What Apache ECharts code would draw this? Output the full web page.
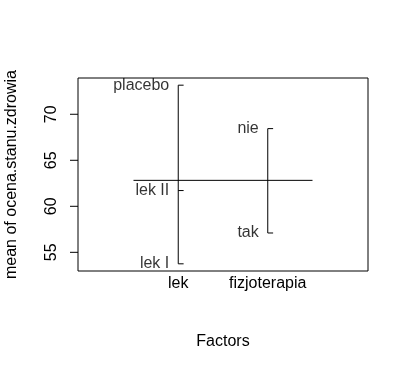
<!DOCTYPE html>
<html><head><meta charset="utf-8">
<script src="https://cdn.jsdelivr.net/npm/echarts@6/dist/echarts.min.js"></script>
<style>html,body{margin:0;padding:0;background:#fff}#c{width:409px;height:369px}</style>
</head><body><div id="c"></div>
<script>
const factors = ['lek', 'fizjoterapia'];
const lekLevels = ['placebo', 'lek II', 'lek I'];
const lekMeans = [73.16, 61.71, 53.75];
const fizjoLevels = ['nie', 'tak'];
const fizjoMeans = [68.44, 57.10];
const grandMean = 62.82;
const yTicks = [55, 60, 65, 70];

const F = 'Liberation Sans, Arial, sans-serif';
const X_MIN = -0.12, X_MAX = 3.12;
const Y_MIN = 52.97, Y_MAX = 73.94;
const lineStyle = {color: '#000', width: 1};
const groups = [
  {x: 1, names: lekLevels, vals: lekMeans},
  {x: 2, names: fizjoLevels, vals: fizjoMeans}
];
const series = [];
groups.forEach(g => {
  series.push({type: 'line', data: [[g.x, Math.max(...g.vals)], [g.x, Math.min(...g.vals)]],
    symbol: 'none', lineStyle, silent: true});
  g.vals.forEach(v => {
    series.push({type: 'line', data: [[g.x, v], [g.x + 0.06, v]], symbol: 'none', lineStyle, silent: true});
  });
  series.push({type: 'scatter', symbolSize: 0, silent: true,
    data: g.vals.map((v, i) => ({value: [g.x, v], name: g.names[i]})),
    label: {show: true, position: 'left', distance: 9, formatter: p => p.name,
      fontFamily: F, fontSize: 16, color: '#000'}});
});
series.push({type: 'line', data: [[0.5, grandMean], [2.5, grandMean]], symbol: 'none', lineStyle, silent: true});
// y-axis tick marks: short horizontal dashes at the left edge of the plot box, pointing outward
series.push({type: 'scatter', silent: true, clip: false, z: 10,
  data: yTicks.map(t => [X_MIN, t]),
  symbol: 'rect', symbolSize: [8, 1], symbolOffset: [-4, 0],
  itemStyle: {color: '#000', opacity: 1}});

const chart = echarts.init(document.getElementById('c'));
chart.setOption({
  animation: false,
  grid: {left: 78, right: 41, top: 78, bottom: 98, show: true, borderColor: '#000', borderWidth: 1,
    outerBoundsMode: 'none', containLabel: false},
  xAxis: {type: 'value', min: X_MIN, max: X_MAX,
    name: 'Factors', nameLocation: 'middle', nameGap: 63,
    nameTextStyle: {fontFamily: F, fontSize: 16, color: '#000'},
    axisLine: {show: false, onZero: false}, axisTick: {show: false}, splitLine: {show: false},
    axisLabel: {customValues: [1, 2], formatter: v => factors[Math.round(v) - 1],
      fontFamily: F, fontSize: 16, color: '#000', margin: 5}},
  yAxis: {type: 'value', min: Y_MIN, max: Y_MAX,
    name: 'mean of ocena.stanu.zdrowia', nameLocation: 'middle', nameGap: 58, nameRotate: 90,
    nameTextStyle: {fontFamily: F, fontSize: 16, color: '#000'},
    axisLine: {show: false, onZero: false}, splitLine: {show: false}, axisTick: {show: false},
    axisLabel: {customValues: yTicks, rotate: 90, fontFamily: F, fontSize: 16, color: '#000', margin: 18}},
  series
});
</script></body></html>
